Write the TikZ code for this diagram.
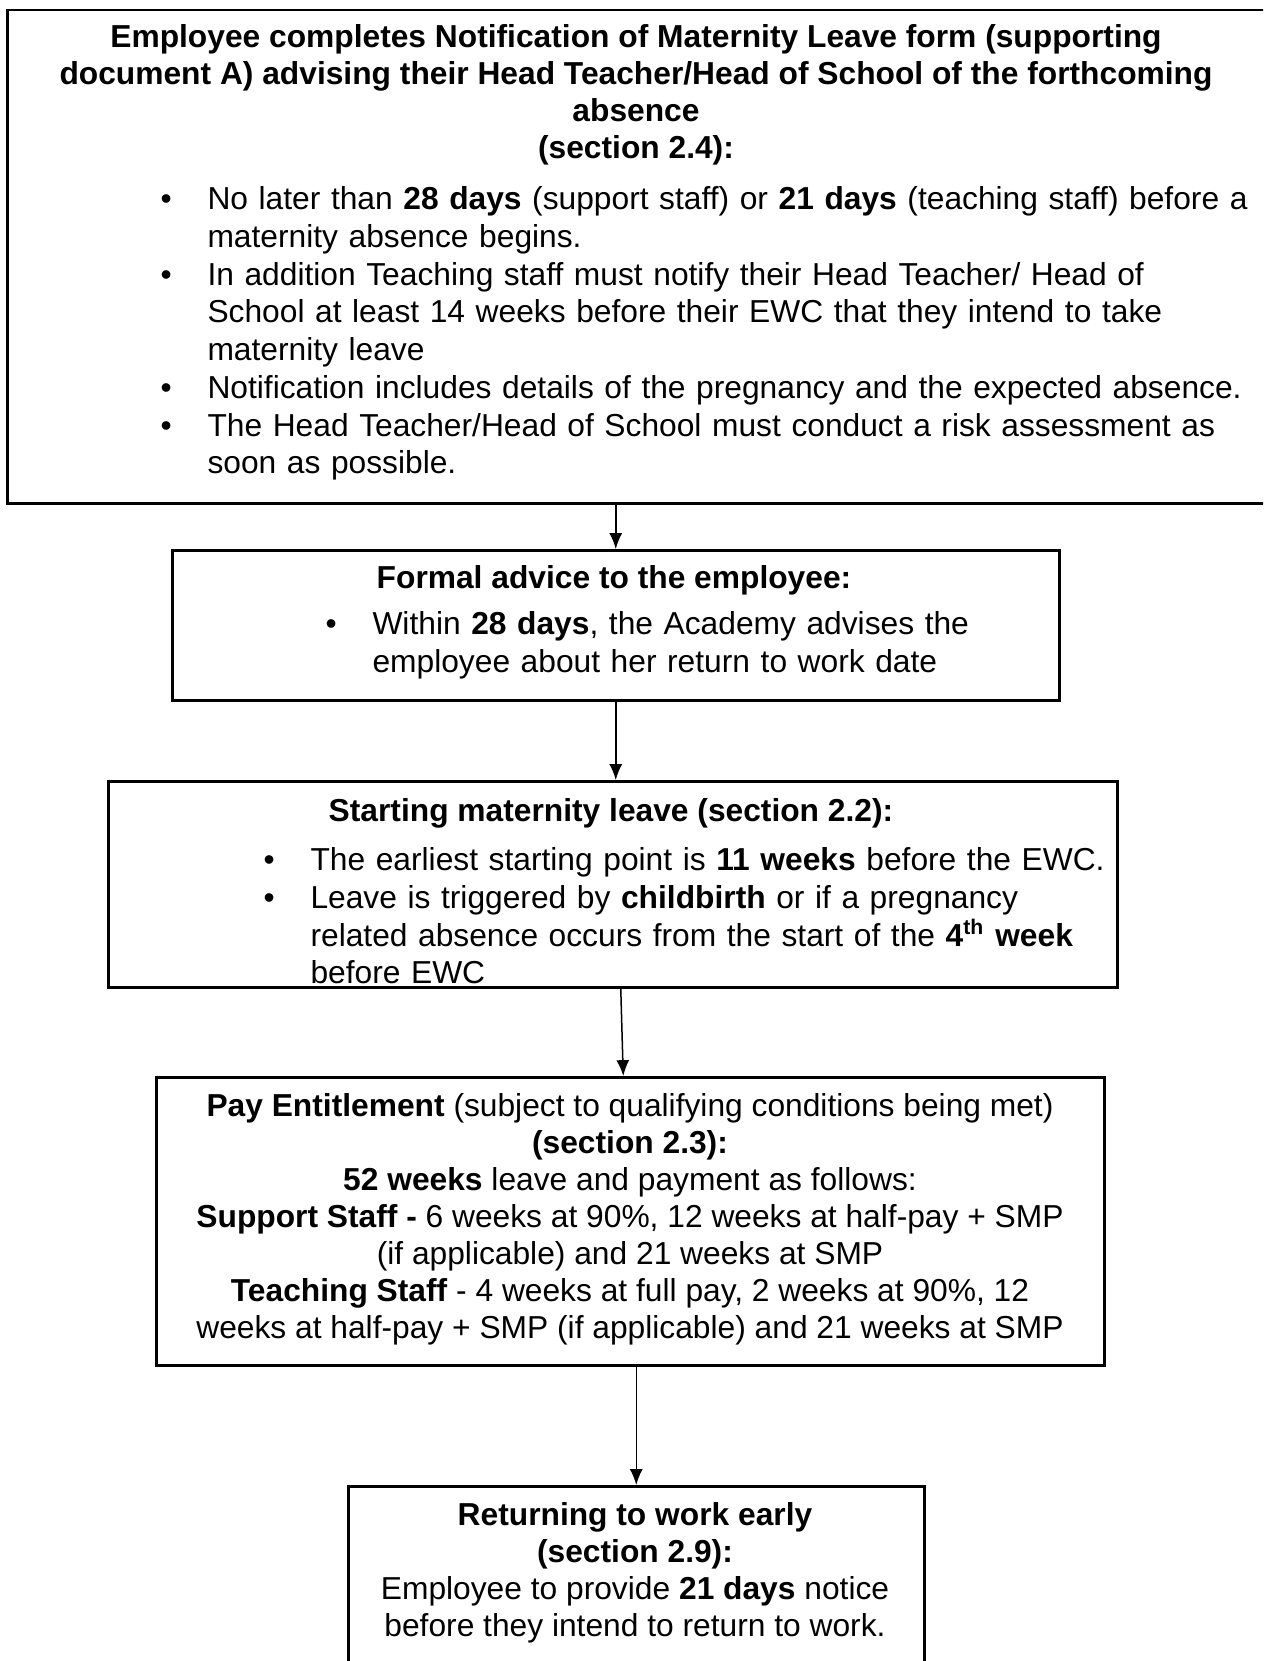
\documentclass[tikz,border=0pt]{standalone}
\usepackage{fontspec}
\setmainfont{Liberation Sans}
\usetikzlibrary{arrows.meta}

\newlength\px
\setlength\px{0.378pt}
\newcommand\puce[1]{\par\noindent\hangindent=47\px\hangafter=1\makebox[47\px][l]{\strut\textbullet}#1\par}

\begin{document}
\begin{tikzpicture}[>={Latex[length=6pt,width=4.9pt]}, x=\px, y=-\px,
	cadre/.style={draw, line width=2.5\px, inner sep=0, anchor=north west},
	fleche/.style={->, line width=1.5\px},
	texte/.style={inner sep=0, anchor=north, font=\fontsize{12pt}{37\px}\selectfont},
	liste/.style={inner sep=0, anchor=north west, align=left, font=\fontsize{12pt}{37.7\px}\selectfont}]
	\useasboundingbox (0,0) rectangle (1263,1661);
	\clip (0,0) rectangle (1263,1661);

	\node[cadre, minimum width=1300\px, minimum height=493\px] (N) at (6,9) {};
	\node[cadre, minimum width=887\px, minimum height=150\px] (F) at (171,549) {};
	\node[cadre, minimum width=1009\px, minimum height=206\px] (S) at (107,780) {};
	\node[cadre, minimum width=948\px, minimum height=288\px] (P) at (155,1076) {};
	\node[cadre, minimum width=576\px, minimum height=250\px] (R) at (347,1485) {};

	\node[texte, align=center, font=\fontsize{12pt}{37\px}\selectfont\bfseries] (Nt) at (636,21)
		{\strut Employee completes Notification of Maternity Leave form (supporting\\
		document A) advising their Head Teacher/Head of School of the forthcoming\\
		absence\\ (section 2.4):};
	\node[liste, text width=1090\px] (Nb) at (160,171.6) {
		\puce{No later than \textbf{28 days} (support staff) or \textbf{21 days} (teaching staff) before a\newline
			maternity absence begins.}
		\puce{In addition Teaching staff must notify their Head Teacher/ Head of\newline
			School at least 14 weeks before their EWC that they intend to take\newline
			maternity leave}
		\puce{Notification includes details of the pregnancy and the expected absence.}
		\puce{The Head Teacher/Head of School must conduct a risk assessment as\newline
			soon as possible.}};

	\node[texte, font=\fontsize{12pt}{37\px}\selectfont\bfseries] (Ft) at (614,562) {\strut Formal advice to the employee:};
	\node[liste, text width=680\px] (Fb) at (325,596.6) {
		\puce{Within \textbf{28 days}, the Academy advises the\newline
			employee about her return to work date}};

	\node[texte, font=\fontsize{12pt}{37\px}\selectfont\bfseries] (St) at (611,795) {\strut Starting maternity leave (section 2.2):};
	\node[liste, text width=880\px] (Sb) at (263,832.6) {
		\puce{The earliest starting point is \textbf{11 weeks} before the EWC.}
		\puce{Leave is triggered by \textbf{childbirth} or if a pregnancy\newline
			related absence occurs from the start of the \textbf{4\smash{\textsuperscript{th}} week}\newline
			before EWC}};

	\node[texte, align=center] (Pt) at (630,1090)
		{\strut\textbf{Pay Entitlement} (subject to qualifying conditions being met)\\
		\textbf{(section 2.3):}\\
		\textbf{52 weeks} leave and payment as follows:\\
		\textbf{Support Staff -} 6 weeks at 90\%, 12 weeks at half-pay + SMP\\
		(if applicable) and 21 weeks at SMP\\
		\textbf{Teaching Staff} - 4 weeks at full pay, 2 weeks at 90\%, 12\\
		weeks at half-pay + SMP (if applicable) and 21 weeks at SMP};

	\node[texte, align=center] (Rt) at (635,1499)
		{\strut\textbf{Returning to work early}\\
		\textbf{(section 2.9):}\\
		Employee to provide \textbf{21 days} notice\\
		before they intend to return to work.};

	\path (N.south -| F.north) edge[fleche] (F.north);
	\path (F.south) edge[fleche] (F.south |- S.north);
	\path ([xshift=8\px]S.south) edge[fleche] ([xshift=-7\px]P.north);
	\path (P.south -| R.north) edge[fleche] (R.north);

\end{tikzpicture}
\end{document}
